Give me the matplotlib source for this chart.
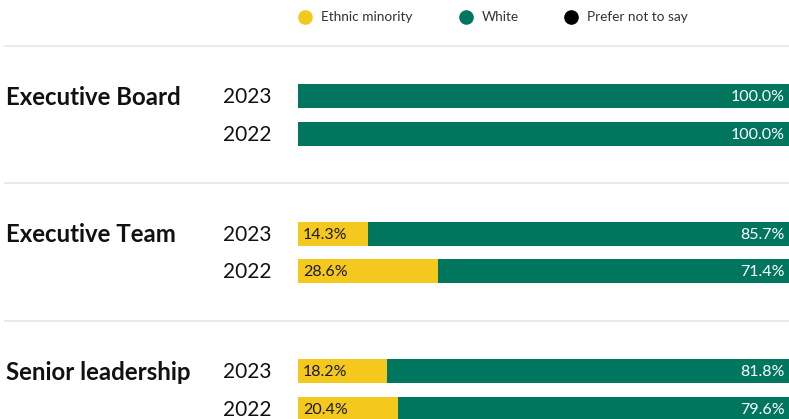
import matplotlib
matplotlib.use("Agg")
import matplotlib.pyplot as plt
import matplotlib.transforms as mtrans
from matplotlib.lines import Line2D

groups = ["Executive Board", "Executive Team", "Senior leadership"]
years = ["2023", "2022"]
ethnic_minority = [[0.0, 0.0], [14.3, 28.6], [18.2, 20.4]]
white = [[100.0, 100.0], [85.7, 71.4], [81.8, 79.6]]
prefer_not = [[0.0, 0.0], [0.0, 0.0], [0.0, 0.0]]
series_names = ["Ethnic minority", "White", "Prefer not to say"]
colors = ["#F5C81D", "#00765F", "#000000"]

FONT = "Lato"
W, H = 789, 419
fig = plt.figure(figsize=(W / 100, H / 100), dpi=100)
ax = fig.add_axes([298 / W, 0, 491 / W, 1])
ax.set_xlim(0, 100)
ax.set_ylim(H, 0)
ax.axis("off")

blend = mtrans.blended_transform_factory(fig.transFigure, ax.transData)

group_step = 137.5
year_step = 37.5
first = 96
bar_h = 24

for g, gname in enumerate(groups):
    for j, yr in enumerate(years):
        yc = first + g * group_step + j * year_step
        left = 0
        for s, vals in enumerate([ethnic_minority, white, prefer_not]):
            v = vals[g][j]
            if v > 0:
                ax.barh(yc, v, left=left, height=bar_h, color=colors[s], linewidth=0)
                if s == 0:
                    ax.text(left + 1.0, yc + 1, f"{v:.1f}%", ha="left", va="center",
                            fontsize=11.5, color="#1a1a1a", family=FONT)
                elif s == 1:
                    ax.text(left + v - 0.8, yc + 1, f"{v:.1f}%", ha="right", va="center",
                            fontsize=11.5, color="white", family=FONT)
            left += v
        ax.text(272 / W, yc + 1, yr, transform=blend, ha="right", va="center",
                fontsize=15, color="#111111", family=FONT)
    ax.text(6 / W, first + g * group_step + 1, gname, transform=blend, ha="left", va="center",
            fontsize=17.3, fontweight="bold", color="#111111", family=FONT)

# separators
for g in range(len(groups)):
    ysep = first + g * group_step - 50
    fig.add_artist(Line2D([5 / W, 1.0], [ysep, ysep], transform=blend,
                          color="#e6e6e6", linewidth=1.2))

# legend
leg_x = [305, 466, 571]
for name, c, lx in zip(series_names, colors, leg_x):
    fig.add_artist(Line2D([lx / W], [1 - 17 / H], marker="o", markersize=9.5,
                          color=c, linestyle="none", transform=fig.transFigure))
    fig.text((lx + 16) / W, 1 - 17 / H, name, ha="left", va="center",
             fontsize=9.8, color="#333333", family=FONT)

fig.savefig("out.png", dpi=100)
